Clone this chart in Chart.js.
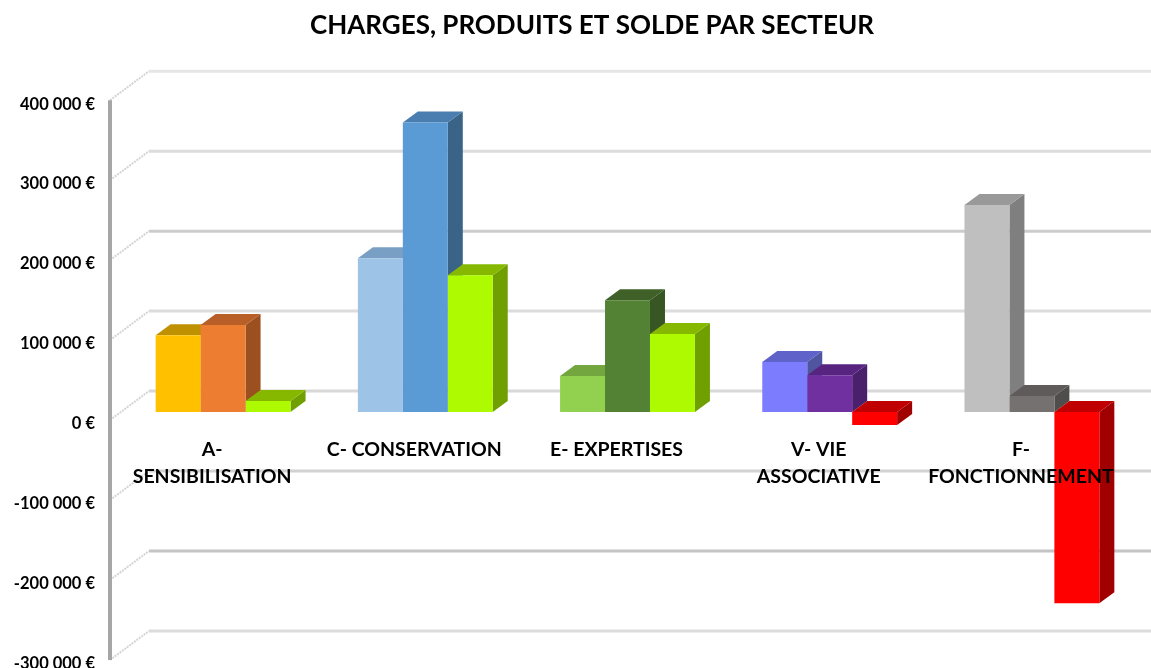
<!DOCTYPE html>
<html>
<head>
<meta charset="utf-8">
<title>Charges, produits et solde par secteur</title>
<script src="https://cdn.jsdelivr.net/npm/chart.js@4/dist/chart.umd.min.js"></script>
<style>
  body { margin: 0; background: #fff; }
  #wrap { width: 1151px; height: 668px; }
</style>
</head>
<body>
<div id="wrap"><canvas id="secteurs"></canvas></div>
<script>
const secteurs = [['A-', 'SENSIBILISATION'], 'C- CONSERVATION', 'E- EXPERTISES', ['V- VIE', 'ASSOCIATIVE'], ['F-', 'FONCTIONNEMENT']];
const charges = [96000, 192500, 45000, 62500, 259000];
const produits = [109000, 362000, 140000, 46000, 20000];
const solde = [14000, 171000, 97500, -16000, -239000];

// front, top and side face of each bar
const chargesFront = ['#ffc000', '#9dc3e6', '#92d050', '#7c7cff', '#bfbfbf'];
const chargesTop = ['#bf9000', '#7a9fc4', '#74a640', '#5f62c8', '#999999'];
const chargesSide = ['#a67c00', '#668aac', '#638f36', '#4f559f', '#7f7f7f'];
const produitsFront = ['#ed7d31', '#5b9bd5', '#548235', '#7030a0', '#767171'];
const produitsTop = ['#b85f28', '#4a7eb0', '#3f6128', '#572580', '#5f5b5b'];
const produitsSide = ['#9c5020', '#3a6388', '#375623', '#4a1f6c', '#504d4d'];
const soldeFront = ['#aefa00', '#aefa00', '#aefa00', '#ff0000', '#ff0000'];
const soldeTop = ['#86b800', '#86b800', '#86b800', '#c00000', '#c00000'];
const soldeSide = ['#70a000', '#70a000', '#70a000', '#a00000', '#a00000'];

// back wall lines, from the lowest tick up: they are not all the same grey
const wallGreys = ['#dcdcdc', '#c4c4c4', '#d2d2d2', '#d8d8d8', '#dcdcdc', '#cccccc', '#dcdcdc', '#e6e6e6'];

const depthX = 15;
const depthY = 11;

function face(ctx, pts, color) {
  ctx.fillStyle = color;
  ctx.beginPath();
  pts.forEach((p, i) => i ? ctx.lineTo(p[0], p[1]) : ctx.moveTo(p[0], p[1]));
  ctx.closePath();
  ctx.fill();
}

// the title sits right of the page centre in the original
const titleShift = {
  id: 'titleShift',
  afterLayout(chart) {
    chart.titleBlock.left = 51;
  }
};

// fake 3D: floor lines on the back wall and the extruded faces behind the bars
const walls = {
  id: 'walls',
  beforeDatasetsDraw(chart) {
    const ctx = chart.ctx;
    const yScale = chart.scales.y;
    const frontX = 110, backX = 149;

    ctx.save();
    yScale.ticks.forEach((t, i) => {
      const p = yScale.getPixelForValue(t.value);
      ctx.strokeStyle = wallGreys[i];
      ctx.lineWidth = 3;
      ctx.setLineDash([]);
      ctx.beginPath();
      ctx.moveTo(backX, p - 21);
      ctx.lineTo(1151, p - 21);
      ctx.stroke();

      ctx.strokeStyle = '#d4d4d4';
      ctx.lineWidth = 2;
      ctx.setLineDash([2, 1]);
      ctx.beginPath();
      ctx.moveTo(frontX, p + 8);
      ctx.lineTo(backX, p - 21);
      ctx.stroke();
    });
    ctx.setLineDash([]);
    ctx.strokeStyle = '#a6a6a6';
    ctx.lineWidth = 4;
    ctx.beginPath();
    ctx.moveTo(frontX, yScale.getPixelForValue(400000) + 8);
    ctx.lineTo(frontX, yScale.getPixelForValue(-300000) + 8);
    ctx.stroke();

    chart.data.datasets.forEach((ds, i) => {
      chart.getDatasetMeta(i).data.forEach((bar, j) => {
        const left = bar.x - bar.width / 2;
        const right = bar.x + bar.width / 2;
        const top = Math.min(bar.y, bar.base);
        const bottom = Math.max(bar.y, bar.base);
        face(ctx, [[right, top], [right + depthX, top - depthY], [right + depthX, bottom - depthY], [right, bottom]], ds.sideColors[j]);
        face(ctx, [[left, top], [left + depthX, top - depthY], [right + depthX, top - depthY], [right, top]], ds.topColors[j]);
      });
    });
    ctx.restore();
  }
};

new Chart(document.getElementById('secteurs'), {
  type: 'bar',
  plugins: [titleShift, walls],
  data: {
    labels: secteurs,
    datasets: [
      { label: 'Charges', data: charges, backgroundColor: chargesFront, topColors: chargesTop, sideColors: chargesSide },
      { label: 'Produits', data: produits, backgroundColor: produitsFront, topColors: produitsTop, sideColors: produitsSide },
      { label: 'Solde', data: solde, backgroundColor: soldeFront, topColors: soldeTop, sideColors: soldeSide },
    ]
  },
  options: {
    responsive: true,
    maintainAspectRatio: false,
    animation: false,
    categoryPercentage: 0.667,
    barPercentage: 1,
    layout: { padding: { right: 18, bottom: 16 } },
    plugins: {
      legend: { display: false },
      tooltip: { enabled: false },
      title: {
        display: true,
        text: 'CHARGES, PRODUITS ET SOLDE PAR SECTEUR',
        color: '#000',
        font: { family: 'Lato', size: 26, weight: 'bold' },
        padding: { top: 10, bottom: 51 }
      }
    },
    scales: {
      x: {
        position: { y: 0 },
        grid: { display: false },
        border: { display: false },
        ticks: {
          z: 1,
          color: '#000',
          padding: 16,
          labelOffset: -11,
          maxRotation: 0,
          autoSkip: false,
          font: { family: 'Lato', size: 19.5, weight: 'bold', lineHeight: 1.385 }
        }
      },
      y: {
        min: -300000,
        max: 400000,
        afterFit(scale) {
          scale.width = 122;
          scale.paddingTop = 0;
          scale.paddingBottom = 0;
        },
        grid: { display: false },
        border: { display: false },
        ticks: {
          stepSize: 100000,
          color: '#000',
          padding: 19,
          labelOffset: 12,
          font: { family: 'Lato', size: 16.5, weight: 'bold' },
          callback: v => String(v).replace(/\B(?=(\d{3})+$)/g, ' ') + ' €'
        }
      }
    }
  }
});
</script>
</body>
</html>
